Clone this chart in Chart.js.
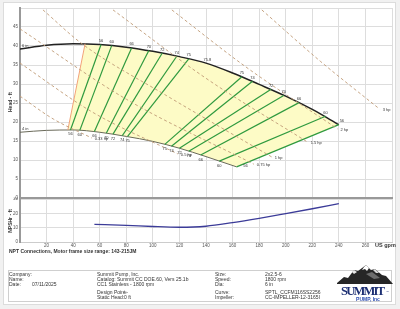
<!DOCTYPE html>
<html>
<head>
<meta charset="utf-8">
<script src="https://cdn.jsdelivr.net/npm/chart.js@4.4.1/dist/chart.umd.min.js"></script>
<style>
  body { margin: 0; width: 400px; height: 309px; background: #f1f1f1; font-family: "Liberation Sans", Arial, sans-serif; overflow: hidden; }
  #panel { position: absolute; left: 3px; top: 2px; width: 393px; height: 303px; background: #fff; border: 1px solid #dcdcdc; box-sizing: border-box; }
  canvas { position: absolute; left: 0; }
  .t { position: absolute; font-size: 5px; color: #333; white-space: nowrap; line-height: 5px; }
  .b { font-weight: bold; }
  .rot { transform: translate(-50%, -50%) rotate(-90deg); }
  #info { position: absolute; left: 8px; top: 270px; width: 384px; height: 32px; border: 1px solid #cfcfcf; box-sizing: border-box; }
</style>
</head>
<body>
<div id="panel"></div>
<canvas id="headChart" width="400" height="199" style="top:0"></canvas>
<canvas id="npshChart" width="400" height="53" style="top:197px"></canvas>

<div class="t b rot" style="left:10px;top:102px">Head - ft</div>
<div class="t b rot" style="left:10px;top:221px">NPSHr - ft</div>
<div class="t b" style="left:375px;top:243px;font-size:5.5px">US gpm</div>
<div class="t b" style="left:9px;top:249px">NPT Connections, Motor frame size range: 143-215JM</div>

<div id="info"></div>
<div class="t" style="left:9px;top:272px">Company:</div>
<div class="t" style="left:9px;top:277px">Name:</div>
<div class="t" style="left:9px;top:282px">Date:</div>
<div class="t" style="left:32px;top:282px">07/11/2025</div>
<div class="t" style="left:97px;top:272px">Summit Pump, Inc.</div>
<div class="t" style="left:97px;top:277px">Catalog: Summit CC DOE.60, Vers 25.1b</div>
<div class="t" style="left:97px;top:282px">CC1 Stainless - 1800 rpm</div>
<div class="t" style="left:97px;top:290px">Design Point:</div>
<div class="t" style="left:123px;top:290px">---</div>
<div class="t" style="left:97px;top:295px">Static Head:</div>
<div class="t" style="left:124px;top:295px">0 ft</div>
<div class="t" style="left:215px;top:272px">Size:</div>
<div class="t" style="left:215px;top:277px">Speed:</div>
<div class="t" style="left:215px;top:282px">Dia:</div>
<div class="t" style="left:215px;top:290px">Curve:</div>
<div class="t" style="left:215px;top:295px">Impeller:</div>
<div class="t" style="left:265px;top:272px">2x2.5-6</div>
<div class="t" style="left:265px;top:277px">1800 rpm</div>
<div class="t" style="left:265px;top:282px">6 in</div>
<div class="t" style="left:265px;top:290px">SPTL_CCFM116SS2256</div>
<div class="t" style="left:265px;top:295px">CC-IMPELLER-12-3165I</div>

<svg style="position:absolute;left:336px;top:262px" width="58" height="42" viewBox="0 0 58 42">
  <polygon points="1,21 8,15 12,16 18,8 22,9 30,3 35,8 39,7 46,13 50,14 57,22 1,22" fill="#262626"/>
  <polygon points="28,5 30,3 33,6 31,9 29,7 26,8" fill="#fff"/>
  <polygon points="16,10 18,8 21,10 18,12" fill="#e8e8e8"/>
  <polygon points="37,8 39,7 43,11 40,11" fill="#d8d8d8"/>
  <polygon points="30,12 36,10 44,16 38,17" fill="#6c6c6c"/>
  <text x="27" y="33" text-anchor="middle" textLength="44" font-family="Liberation Serif, serif" font-weight="bold" font-size="12.5" fill="#1d2f73">SUMMIT</text>
  <text x="50" y="31" font-family="Liberation Sans, sans-serif" font-size="3" fill="#1d2f73">™</text>
  <text x="32" y="38.5" text-anchor="middle" font-family="Liberation Sans, sans-serif" font-weight="bold" font-size="5" fill="#2c4db0">PUMP, Inc</text>
</svg>

<script>
// max impeller (6 in) and min impeller (4 in) head curves, US gpm / ft
const max6Flow = [0, 20, 40, 60, 80, 100, 120, 140, 160, 180, 200, 220, 240];
const max6Head = [39.2, 40.2, 40.6, 40.4, 39.7, 38.6, 37.2, 35.5, 32.9, 29.9, 26.8, 23.3, 19.3];
const min4Flow = [0, 20, 40, 60, 80, 100, 120, 140, 163];
const min4Head = [17.3, 17.8, 17.9, 17.3, 16.2, 14.9, 13.1, 10.9, 8.2];

// min flow edge of the operating region
const edgeFlow = [49, 36];
const edgeHead = [40.6, 17.9];

// efficiency lines, end on 6 in curve (top) and 4 in curve (bottom)
const effValues = [56, 60, 66, 70, 72, 74, 75, 75, 74, 72, 70, 66, 60, 56];
const effFlowTop = [61, 69, 84, 97, 107, 118, 127, 167, 175, 189, 198.5, 210, 230, 240];
const effHeadTop = [40.4, 40.1, 39.5, 38.8, 38.1, 37.3, 36.6, 31.9, 30.7, 28.6, 27.0, 25.1, 21.5, 19.3];
const effFlowBot = [38, 45, 56, 65, 70, 77, 81, 109, 114, 120, 127, 136, 150, 163];
const effHeadBot = [17.9, 17.8, 17.5, 17.1, 16.8, 16.4, 16.2, 14.1, 13.6, 13.1, 12.3, 11.3, 9.7, 8.2];
const bepFlow = 141;
const bepHead = 35.4;
const bepLabel = '75.8';

// power lines
const hpNames = ['0.33 hp', '0.5 hp', '0.75 hp', '1 hp', '1.5 hp', '2 hp', '3 hp'];
const hpFlow = [
  [0, 25, 54],
  [0, 55, 118.8],
  [0, 80, 176],
  [17.3, 47, 110, 189.5],
  [70, 140, 216.5],
  [114.3, 170, 239],
  [182, 226, 270.7]
];
const hpHead = [
  [26.8, 20.8, 15.8],
  [35.5, 22.5, 11.6],
  [44.5, 26, 8.9],
  [49.5, 40.5, 27, 10.8],
  [49.5, 31.5, 14.7],
  [49.5, 34.5, 18.2],
  [49.5, 36, 23.4]
];

// NPSHr curve
const npshFlow = [56, 80, 100, 120, 140, 160, 180, 200, 220, 240];
const npshValues = [12.3, 11.6, 10.8, 10.3, 11.0, 13.5, 16.5, 19.8, 23.2, 26.7];

const pts = (xs, ys) => xs.map((x, i) => ({x: x, y: ys[i]}));
const tickFont = {family: '"Liberation Sans", Arial', size: 4.5};
const gridColor = '#dddddd';
const fitY = s => { s.width = 20; s.paddingTop = 0; s.paddingBottom = 0; };
const fitX = h => s => { s.height = h; s.paddingLeft = 0; s.paddingRight = 0; };

// operating region polygon, built from the curve arrays
const regionTop = [{x: edgeFlow[0], y: edgeHead[0]}].concat(pts(max6Flow, max6Head).filter(p => p.x > edgeFlow[0]));
const regionBot = pts(min4Flow, min4Head).filter(p => p.x > edgeFlow[1]).reverse().concat([{x: edgeFlow[1], y: edgeHead[1]}]);
const regionPts = regionTop.concat(regionBot);

const regionPlugin = {
  id: 'region',
  beforeDatasetsDraw(chart) {
    const {ctx, scales: {x, y}} = chart;
    ctx.save();
    ctx.beginPath();
    regionPts.forEach((p, i) => {
      const px = x.getPixelForValue(p.x), py = y.getPixelForValue(p.y);
      if (i === 0) ctx.moveTo(px, py); else ctx.lineTo(px, py);
    });
    ctx.closePath();
    ctx.fillStyle = '#fdfbc6';
    ctx.fill();
    ctx.restore();
  }
};

const labelPlugin = {
  id: 'labels',
  afterDatasetsDraw(chart) {
    const {ctx, scales: {x, y}} = chart;
    const last = effValues.length - 1;
    ctx.save();
    ctx.font = '4px "Liberation Sans", Arial';
    ctx.fillStyle = '#333';
    ctx.textAlign = 'center';
    effValues.forEach((v, i) => {
      const dx = i === last ? 3 : 0;
      ctx.fillText(v, x.getPixelForValue(effFlowTop[i]) + dx, y.getPixelForValue(effHeadTop[i]) - 2.5);
      ctx.fillText(v, x.getPixelForValue(effFlowBot[i]) + dx * 3, y.getPixelForValue(effHeadBot[i]) + (i === last ? 0 : 5.5));
    });
    ctx.fillText(bepLabel, x.getPixelForValue(bepFlow), y.getPixelForValue(bepHead) - 2.5);
    ctx.textAlign = 'left';
    hpNames.forEach((n, i) => {
      const k = hpFlow[i].length - 1;
      ctx.fillText(n, x.getPixelForValue(hpFlow[i][k]) + 3, y.getPixelForValue(hpHead[i][k]) + 2);
    });
    ctx.fillText('6 in', x.getPixelForValue(max6Flow[0]) + 2, y.getPixelForValue(max6Head[0]) - 2);
    ctx.fillText('4 in', x.getPixelForValue(min4Flow[0]) + 2, y.getPixelForValue(min4Head[0]) - 2);
    ctx.restore();
  }
};

const datasets = [];
hpNames.forEach((n, i) => {
  datasets.push({data: pts(hpFlow[i], hpHead[i]), borderColor: '#bf9b76', borderWidth: 0.9, borderDash: [3, 2.5], cubicInterpolationMode: 'monotone'});
});
effValues.forEach((v, i) => {
  datasets.push({data: [{x: effFlowTop[i], y: effHeadTop[i]}, {x: effFlowBot[i], y: effHeadBot[i]}], borderColor: '#2f9a3f', borderWidth: 1.2});
});
datasets.push({data: pts(edgeFlow, edgeHead), borderColor: '#f2a27a', borderWidth: 1});
datasets.push({data: pts(min4Flow, min4Head), borderColor: '#6a6a5a', borderWidth: 1, cubicInterpolationMode: 'monotone'});
datasets.push({data: pts(max6Flow, max6Head), borderColor: '#222', borderWidth: 1.5, cubicInterpolationMode: 'monotone'});

new Chart(document.getElementById('headChart'), {
  type: 'line',
  data: {datasets: datasets},
  options: {
    responsive: false,
    animation: false,
    devicePixelRatio: 1,
    layout: {padding: {left: 0, right: 8, top: 8, bottom: 1}},
    elements: {point: {radius: 0}},
    plugins: {legend: {display: false}, tooltip: {enabled: false}},
    scales: {
      x: {
        type: 'linear', min: 0, max: 280,
        ticks: {display: false, stepSize: 20},
        grid: {color: gridColor, drawTicks: false},
        border: {color: '#999', width: 2},
        afterFit: fitX(0)
      },
      y: {
        min: 0, max: 50,
        ticks: {stepSize: 5, font: tickFont, color: '#555', padding: 2, callback: v => v === 50 ? '' : v},
        grid: {color: gridColor, drawTicks: false},
        border: {color: '#999', width: 2},
        afterFit: fitY
      }
    }
  },
  plugins: [regionPlugin, labelPlugin]
});

new Chart(document.getElementById('npshChart'), {
  type: 'line',
  data: {
    datasets: [{data: pts(npshFlow, npshValues), borderColor: '#3b3b98', borderWidth: 1.3, cubicInterpolationMode: 'monotone'}]
  },
  options: {
    responsive: false,
    animation: false,
    devicePixelRatio: 1,
    layout: {padding: {left: 0, right: 8, top: 2, bottom: 0}},
    elements: {point: {radius: 0}},
    plugins: {legend: {display: false}, tooltip: {enabled: false}},
    scales: {
      x: {
        type: 'linear', min: 0, max: 280,
        ticks: {stepSize: 20, font: tickFont, color: '#555', padding: 1, maxRotation: 0, autoSkip: false, callback: v => (v === 0 || v === 280) ? '' : v},
        grid: {color: gridColor, drawTicks: false},
        border: {color: '#ccc', width: 1},
        afterFit: fitX(8)
      },
      y: {
        min: 0, max: 30,
        ticks: {stepSize: 10, font: tickFont, color: '#555', padding: 2},
        grid: {color: gridColor, drawTicks: false},
        border: {color: '#999', width: 2},
        afterFit: fitY
      }
    }
  }
});
</script>
</body>
</html>
